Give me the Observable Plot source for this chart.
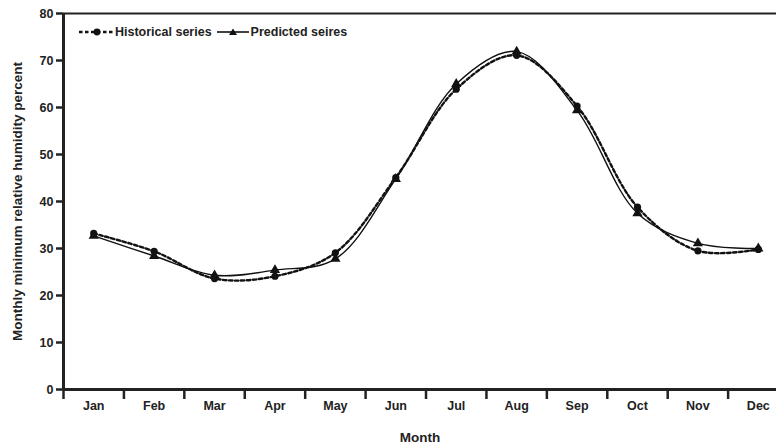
<!DOCTYPE html>
<html><head><meta charset="utf-8">
<script src="https://cdn.jsdelivr.net/npm/d3@7"></script>
<script src="https://cdn.jsdelivr.net/npm/@observablehq/plot@0.6"></script>
<style>
body{margin:0;background:#fff;font-family:"Liberation Sans",Arial,sans-serif;}
#wrap{position:relative;width:776px;height:447px;overflow:hidden;}
#legend{position:absolute;left:79px;top:25px;display:flex;align-items:center;font-weight:bold;font-size:12.5px;color:#222;}
#legend span{margin-right:4px;margin-left:1px;}
</style></head>
<body><div id="wrap"><div id="chart"></div><div id="legend"></div></div>
<script>
const months = ["Jan","Feb","Mar","Apr","May","Jun","Jul","Aug","Sep","Oct","Nov","Dec"];
const historical = [33.2, 29.4, 23.6, 24.1, 29.1, 45.1, 63.9, 71.1, 60.3, 38.8, 29.5, 29.8];
const predicted  = [32.7, 28.4, 24.3, 25.4, 27.8, 44.8, 65.0, 71.9, 59.4, 37.5, 31.1, 30.0];
const yTicks = [0,10,20,30,40,50,60,70,80];
const seriesNames = ["Historical series","Predicted seires"];

const hist = months.map((m,i)=>({x:i+0.5, y:historical[i]}));
const pred = months.map((m,i)=>({x:i+0.5, y:predicted[i]}));
const boundaries = d3.range(0, 13);
const centers = months.map((m,i)=>i+0.5);

const W = 776, H = 447, mL = 63, mT = 13, mB = 58;
const monthPx = 60.42;
const xMax = (W - mL) / monthPx;

const plot = Plot.plot({
  width: W, height: H,
  marginLeft: mL, marginRight: 0, marginTop: mT, marginBottom: mB,
  style: {fontFamily: '"Liberation Sans", Arial, sans-serif', background: "white", color: "#222"},
  x: {domain: [0, xMax]},
  y: {domain: [0, 80]},
  marks: [
    Plot.ruleY([80], {stroke: "#222", strokeWidth: 2}),
    Plot.axisY({ticks: yTicks, tickSize: 7, tickPadding: 3, fontSize: 12.5, fontWeight: "bold",
      stroke: "#222", strokeWidth: 2.5, label: null}),
    Plot.axisY({ticks: [], tickSize: 0, fontSize: 13.5, fontWeight: "bold",
      label: "Monthly minimum relative humidity percent", labelAnchor: "center", labelArrow: "none", labelOffset: 51}),
    Plot.axisX({ticks: boundaries, tickFormat: () => "", tickSize: 10, stroke: "#222", strokeWidth: 2.5, label: null}),
    Plot.axisX({ticks: centers, tickFormat: d => months[Math.floor(d)], tickSize: 0, tickPadding: 12,
      fontSize: 12.5, fontWeight: "bold", label: null}),
    Plot.axisX({ticks: [], tickSize: 0, fontSize: 13.5, fontWeight: "bold",
      label: "Month", labelAnchor: "center", labelArrow: "none", labelOffset: 52}),
    Plot.ruleX([0], {stroke: "#222", strokeWidth: 3}),
    Plot.ruleY([0], {stroke: "#222", strokeWidth: 3}),
    Plot.line(pred, {x: "x", y: "y", curve: "catmull-rom", stroke: "#111", strokeWidth: 1.4}),
    Plot.line(hist, {x: "x", y: "y", curve: "catmull-rom", stroke: "#111", strokeWidth: 2.4, strokeDasharray: "3.5,2.5"}),
    Plot.dot(pred, {x: "x", y: "y", symbol: "triangle", r: 3.8, fill: "#111", stroke: "none"}),
    Plot.dot(hist, {x: "x", y: "y", r: 3.6, fill: "#111", stroke: "none"})
  ]
});
document.getElementById("chart").append(plot);

const legend = document.getElementById("legend");
const sw1 = `<svg width="35" height="10"><line x1="0" y1="5" x2="35" y2="5" stroke="#111" stroke-width="2.4" stroke-dasharray="3.5,2.5"/><circle cx="18" cy="5" r="3.4" fill="#111"/></svg>`;
const sw2 = `<svg width="34" height="10"><line x1="1" y1="5" x2="33" y2="5" stroke="#111" stroke-width="1.6"/><path d="M17,1.5 L21,8 L13,8 Z" fill="#111"/></svg>`;
legend.innerHTML = `${sw1}<span>${seriesNames[0]}</span>${sw2}<span>${seriesNames[1]}</span>`;
</script></body></html>
